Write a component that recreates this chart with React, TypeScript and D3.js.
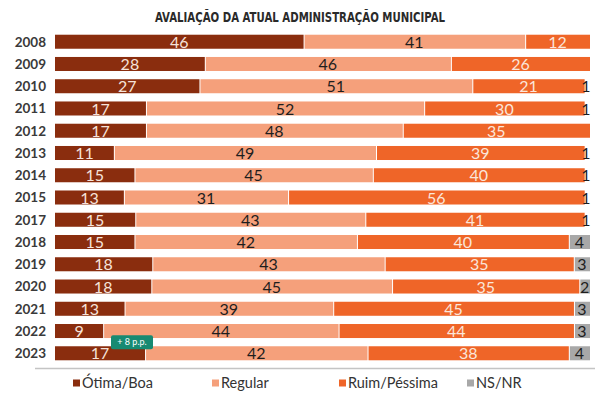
import * as d3 from 'd3'

const years = ['2008', '2009', '2010', '2011', '2012', '2013', '2014', '2015', '2017', '2018', '2019', '2020', '2021', '2022', '2023']
const otimaBoa = [46, 28, 27, 17, 17, 11, 15, 13, 15, 15, 18, 18, 13, 9, 17]
const regular = [41, 46, 51, 52, 48, 49, 45, 31, 43, 42, 43, 45, 39, 44, 42]
const ruimPessima = [12, 26, 21, 30, 35, 39, 40, 56, 41, 40, 35, 35, 45, 44, 38]
const nsNr = [0, 0, 1, 1, 0, 1, 1, 1, 1, 4, 3, 2, 3, 3, 4]
const seriesNames = ['Ótima/Boa', 'Regular', 'Ruim/Péssima', 'NS/NR']
const colors = ['#8a2d0e', '#f5a07b', '#ef6528', '#a8a8a8']
const labelColors = ['#f6e3da', '#1e1e1e', '#fbe6da', '#1e1e1e']
const title = 'AVALIAÇÃO DA ATUAL ADMINISTRAÇÃO MUNICIPAL'
const badge = '+ 8 p.p.'

const width = 600
const height = 394

export default function App() {
  const rows = years.map((year, i) => ({
    year,
    values: [otimaBoa[i], regular[i], ruimPessima[i], nsNr[i]],
  }))

  const y = d3.scaleBand(years, [30.6, 364.4]).paddingInner(0.37).paddingOuter(0.185)
  const font = 'Lato, "Open Sans", sans-serif'

  const legendX = [73, 212, 339, 467]
  const badgeY = (y('2022')! + y('2023')! + y.bandwidth()) / 2

  return (
    <svg width={width} height={height} style={{position: 'absolute', left: 0, top: 0, background: '#fff'}}>
      <text x={300} y={22} textAnchor="middle" fontFamily='"DejaVu Sans Condensed", "DejaVu Sans", sans-serif'
            fontWeight="bold" fontSize={14} fill="#2a2a2a" textLength={290} lengthAdjust="spacingAndGlyphs">
        {title}
      </text>

      {rows.map(row => {
        // each bar is stretched to the full width (100% stacked)
        const total = d3.sum(row.values)
        const x = d3.scaleLinear([0, total], [55, 590])
        let acc = 0
        const y0 = y(row.year)!
        const bw = y.bandwidth()
        return (
          <g key={row.year}>
            <text x={46} y={y0 + bw / 2} dy="0.36em" textAnchor="end" fontFamily={font}
                  fontWeight="bold" fontSize={13.5} fill="#3a3a3a">{row.year}</text>
            {row.values.map((v, j) => {
              const start = acc
              acc += v
              if (v === 0) return null
              const x0 = x(start)
              const x1 = x(acc)
              const gap = start > 0 ? 1 : 0
              return (
                <g key={j}>
                  {!(j === 3 && v < 2) && (
                    <rect x={x0 + gap} y={y0} width={Math.max(0, x1 - x0 - gap)} height={bw} fill={colors[j]} />
                  )}
                  <text x={j === 3 ? Math.min((x0 + x1) / 2, 586) : (x0 + x1) / 2} y={y0 + bw / 2} dy="0.38em"
                        textAnchor="middle" fontFamily={font} fontSize={16}
                        fill={labelColors[j]}>{v}</text>
                </g>
              )
            })}
          </g>
        )
      })}

      <g>
        <rect x={111} y={badgeY - 7} width={42} height={14} rx={2} fill="#178a72" />
        <text x={132} y={badgeY} dy="0.35em" textAnchor="middle"
              fontFamily={font} fontSize={9} fill="#ffffff">{badge}</text>
      </g>

      <line x1={35} x2={595} y1={368.5} y2={368.5} stroke="#c4c4c4" strokeWidth={1.5} />

      {seriesNames.map((name, i) => (
        <g key={name}>
          <rect x={legendX[i]} y={379.5} width={7} height={7} fill={colors[i]} />
          <text x={legendX[i] + 9} y={383} dy="0.36em" fontFamily={font} fontSize={14.5} fill="#333">{name}</text>
        </g>
      ))}
    </svg>
  )
}
